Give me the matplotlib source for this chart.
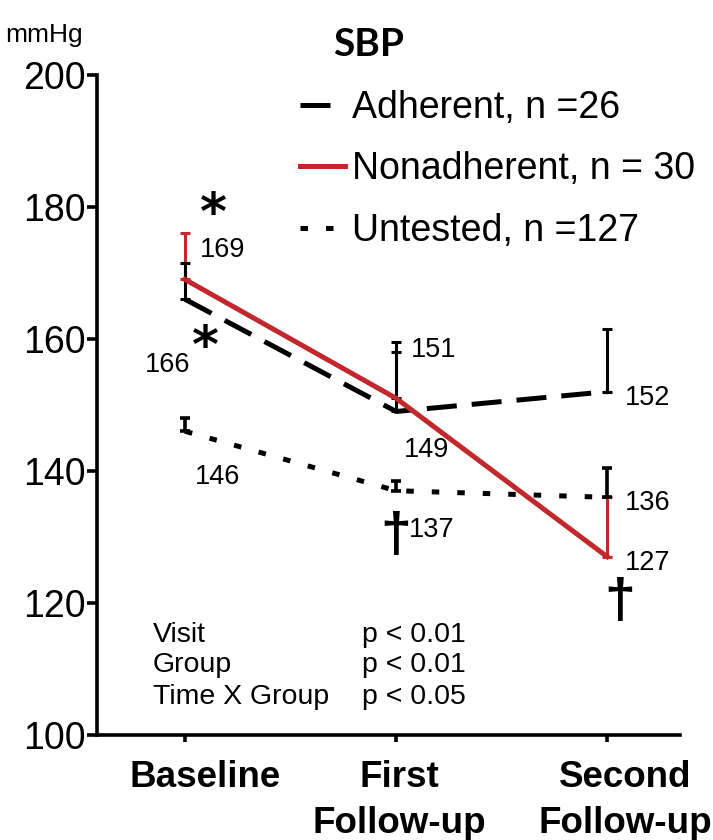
import matplotlib
matplotlib.use("Agg")
import matplotlib.pyplot as plt
from matplotlib.lines import Line2D

plt.rcParams['font.family'] = ['Liberation Sans', 'DejaVu Sans']
plt.rcParams['mathtext.fontset'] = 'dejavusans'

# ---- data ----
visits = ["Baseline", "First\nFollow-up", "Second\nFollow-up"]
adherent = [166, 149, 152]
adherent_err = [5.5, 10.5, 9.5]
nonadherent = [169, 151, 127]
nonadherent_err = [7, 7, 9]
untested = [146, 137, 136]
untested_err = [2, 1.5, 4.5]
legend_labels = ["Adherent, n =26", "Nonadherent, n = 30", "Untested, n =127"]
stats_names = ["Visit", "Group", "Time X Group"]
stats_p = ["p < 0.01", "p < 0.01", "p < 0.05"]
yticks = [100, 120, 140, 160, 180, 200]

RED = "#c1272d"
x = list(range(len(visits)))

fig = plt.figure(figsize=(7.13, 8.4), dpi=100)
ax = fig.add_axes([0.136, 0.125, 0.818, 0.786])

lw = 3.6
# error bars (upward only); the one hidden behind the adherent bar is drawn black
for i in range(len(x)):
    col = 'black' if i == 1 else RED
    ax.errorbar([x[i]], [nonadherent[i]], yerr=[[0], [nonadherent_err[i]]], fmt='none',
                ecolor=col, elinewidth=2.2, capsize=3.5, capthick=2.2, zorder=2)
ax.errorbar(x, adherent, yerr=[[0]*3, adherent_err], fmt='none',
            ecolor='black', elinewidth=2.2, capsize=3.5, capthick=2.2, zorder=3)
ax.errorbar(x, untested, yerr=[[0]*3, untested_err], fmt='none',
            ecolor='black', elinewidth=2.6, capsize=3.5, capthick=2.6, zorder=3)

ax.plot(x, adherent, color='black', lw=lw, dashes=(6, 3), zorder=4)
ax.plot(x, untested, color='black', lw=lw, dashes=(1.5, 3.6), zorder=4)
ax.plot(x, nonadherent, color=RED, lw=lw, zorder=5)

ax.set_xlim(-0.417, 2.346)
ax.set_ylim(100, 200)
ax.set_yticks(yticks)
ax.set_yticklabels([str(t) for t in yticks], fontsize=27)
ax.set_xticks(x)
ax.set_xticklabels([])
for s in ['top', 'right']:
    ax.spines[s].set_visible(False)
for s in ['left', 'bottom']:
    ax.spines[s].set_linewidth(2.6)
ax.tick_params(axis='y', length=7, width=2.6, pad=1)
ax.tick_params(axis='x', length=5, width=2.6)

# x labels
xlab_off = [0.095, 0.014, 0.085]
for xi, lab, off in zip(x, visits, xlab_off):
    ax.text(xi + off, -0.038, lab, transform=ax.get_xaxis_transform(),
            ha='center', va='top', fontsize=26.5, fontweight='bold', linespacing=1.4)

# value labels
def vlab(xi, dx, y, txt, ha='left'):
    ax.text(xi + dx, y, txt, fontsize=19.5, ha=ha, va='center')

vlab(x[0], 0.071, nonadherent[0] + 4.5, str(nonadherent[0]))
vlab(x[0], 0.024, adherent[0] - 9.9, str(adherent[0]), ha='right')
vlab(x[0], 0.047, untested[0] - 6.9, str(untested[0]))
vlab(x[1], 0.071, nonadherent[1] + 7.3, str(nonadherent[1]))
vlab(x[1], 0.038, adherent[1] - 5.8, str(adherent[1]))
vlab(x[1], 0.062, untested[1] - 5.9, str(untested[1]))
vlab(x[2], 0.085, adherent[2] - 0.9, str(adherent[2]))
vlab(x[2], 0.085, untested[2] - 0.8, str(untested[2]))
vlab(x[2], 0.085, nonadherent[2] - 0.9, str(nonadherent[2]))

# significance markers
ax.text(0.133, 179.0, r"$\mathbf{*}$", fontsize=37, ha='center', va='center')
ax.text(0.095, 158.8, r"$\mathbf{*}$", fontsize=37, ha='center', va='center')
ax.text(1.0, 130.0, "\u2020", fontsize=40, ha='center', va='center', fontweight='bold')
ax.text(2.06, 120.0, "\u2020", fontsize=40, ha='center', va='center', fontweight='bold')

# stats text
ys = [115.2, 110.6, 105.8]
for name, p, yy in zip(stats_names, stats_p, ys):
    ax.text(-0.152, yy, name, fontsize=20.5, ha='left', va='center')
    ax.text(0.839, yy, p, fontsize=20.5, ha='left', va='center')

# legend
handles = [
    Line2D([], [], color='black', lw=lw, dashes=(6, 3)),
    Line2D([], [], color=RED, lw=lw),
    Line2D([], [], color='black', lw=lw, dashes=(1.5, 3.6)),
]
leg = ax.legend(handles, legend_labels, loc='upper left', bbox_to_anchor=(0.322, 1.0),
                frameon=False, fontsize=27, handlelength=1.2, handletextpad=0.19,
                labelspacing=0.68, borderaxespad=0)

fig.text(0.467, 0.947, "SBP", fontsize=28, fontweight='bold', ha='left', va='center',
         family=['Lato', 'DejaVu Sans'])
fig.text(0.007, 0.958, "mmHg", fontsize=19, ha='left', va='center')

fig.savefig("out.png", dpi=100)
